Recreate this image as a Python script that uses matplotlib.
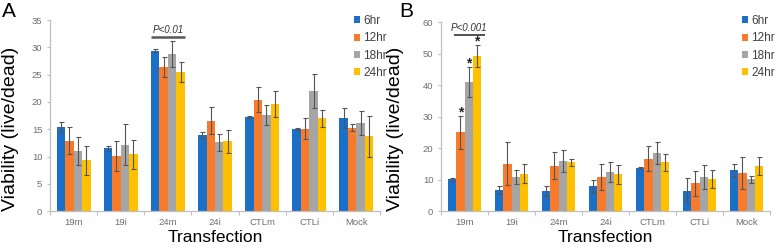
import matplotlib
matplotlib.use("Agg")
import matplotlib.pyplot as plt
import numpy as np
from matplotlib.patches import Patch

plt.rcParams['font.family'] = ['Liberation Sans', 'DejaVu Sans']

categories = ["19m", "19i", "24m", "24i", "CTLm", "CTLi", "Mock"]
series = ["6hr", "12hr", "18hr", "24hr"]
colors = ["#1a6fc9", "#f77b2b", "#a5a5a5", "#ffc000"]

# Panel A means and errors (per series, per category)
a_vals = {
    "6hr":  [15.4, 11.5, 29.4, 14.0, 17.2, 15.0, 17.1],
    "12hr": [12.9, 10.1, 26.4, 16.6, 20.4, 15.1, 15.3],
    "18hr": [11.0, 12.2, 28.8, 12.6, 17.6, 22.0, 16.2],
    "24hr": [9.3, 10.4, 25.5, 12.8, 19.7, 17.0, 13.7],
}
a_err = {
    "6hr":  [0.9, 0.5, 0.3, 0.6, 0.2, 0.2, 1.8],
    "12hr": [2.5, 2.7, 1.8, 2.4, 2.3, 1.9, 0.6],
    "18hr": [2.6, 3.7, 2.4, 1.5, 1.9, 3.1, 2.2],
    "24hr": [2.6, 2.6, 1.8, 2.1, 2.4, 1.6, 3.7],
}
# Panel B
b_vals = {
    "6hr":  [10.1, 6.8, 6.4, 8.0, 13.7, 6.5, 13.0],
    "12hr": [25.0, 15.1, 14.5, 10.9, 16.7, 8.9, 12.1],
    "18hr": [40.9, 10.9, 15.9, 12.4, 18.5, 11.0, 10.1],
    "24hr": [49.2, 11.9, 15.6, 11.7, 15.5, 10.2, 14.3],
}
b_err = {
    "6hr":  [0.6, 1.3, 1.7, 2.0, 0.3, 3.9, 2.1],
    "12hr": [5.1, 6.9, 4.3, 4.2, 3.9, 3.9, 5.1],
    "18hr": [4.8, 2.3, 3.5, 3.2, 3.4, 3.8, 1.0],
    "24hr": [3.5, 3.0, 1.1, 3.0, 2.6, 2.8, 2.9],
}

W, H = 776, 248
fig = plt.figure(figsize=(W / 100, H / 100), dpi=100)

ax_a = fig.add_axes([50 / W, (H - 211.3) / H, 330 / W, 191.3 / H])
ax_b = fig.add_axes([441 / W, (H - 211.3) / H, 329 / W, 189.3 / H])

bw = 0.18
x = np.arange(len(categories))
tick_col = "#6f6f6f"
spine_col = "#bfbfbf"


def draw(ax, vals, errs, ymax, ystep, ylab_xy):
    for i, s in enumerate(series):
        ax.bar(x + (i - 1.5) * bw, vals[s], width=bw, color=colors[i],
               yerr=errs[s], error_kw=dict(ecolor="#555555", elinewidth=0.8,
                                           capsize=1.8, capthick=0.8),
               zorder=2)
    ax.set_xlim(-0.5, len(categories) - 0.5)
    ax.set_ylim(0, ymax)
    ax.set_yticks(np.arange(0, ymax + 0.1, ystep))
    ax.set_xticks(x)
    ax.set_xticklabels(categories)
    ax.set_xticks(np.arange(-0.5, len(categories), 1.0), minor=True)
    ax.tick_params(axis="x", which="major", length=0, pad=5,
                   labelsize=6.8, labelcolor=tick_col)
    ax.tick_params(axis="x", which="minor", length=3, color=spine_col,
                   width=0.8)
    ax.tick_params(axis="y", length=2.5, color=spine_col, width=0.8,
                   labelsize=6.8, labelcolor=tick_col, pad=3)
    for sp in ["top", "right"]:
        ax.spines[sp].set_visible(False)
    for sp in ["left", "bottom"]:
        ax.spines[sp].set_color(spine_col)
        ax.spines[sp].set_linewidth(0.9)
    ax.set_xlabel("Transfection", fontsize=12.5, labelpad=2)
    ax.set_ylabel("Viability (live/dead)", fontsize=14)
    ax.yaxis.set_label_coords(*ylab_xy)
    handles = [Patch(facecolor=c, edgecolor="none") for c in colors]
    return handles


h = draw(ax_a, a_vals, a_err, 35, 5, (-0.094, 0.433))
draw(ax_b, b_vals, b_err, 60, 10, (-0.112, 0.437))

# Legends
for ax, lx in [(ax_a, 354), (ax_b, 742)]:
    fig.legend(h, series, loc="upper left",
               bbox_to_anchor=(lx / W, 1 - 15 / H),
               frameon=False, fontsize=8.5, handlelength=0.55,
               handleheight=0.55, handletextpad=0.25,
               labelspacing=0.45, borderaxespad=0, borderpad=0,
               labelcolor="#404040")

# Significance annotation, panel A
ax_a.plot([2 - 2 * bw, 2 + 2 * bw], [31.8, 31.8], color="#595959", lw=1.8,
          solid_capstyle="butt", zorder=3)
ax_a.text(2, 32.3, "P<0.01", style="italic", fontsize=7, ha="center",
          va="bottom", color="#333333")

# Significance annotation, panel B
ax_b.plot([0 - 0.22, 0 + 0.43], [56.0, 56.0], color="#333333", lw=1.2,
          solid_capstyle="butt", zorder=3)
ax_b.text(0.09, 56.4, "P<0.001", style="italic", fontsize=7, ha="center",
          va="bottom", color="#333333")
for i in [1, 2, 3]:
    s = series[i]
    top = b_vals[s][0] + b_err[s][0]
    ax_b.annotate("*", xy=(0 + (i - 1.5) * bw, top), xytext=(0, -2.5),
                  textcoords="offset points", ha="center", va="bottom",
                  fontsize=10, fontweight="bold", color="#222222")

# Panel letters
fig.text(2 / W, 1 - 2 / H, "A", fontsize=15, va="top", ha="left")
fig.text(399 / W, 1 - 2 / H, "B", fontsize=15, va="top", ha="left")

fig.savefig("out.png", dpi=100)
